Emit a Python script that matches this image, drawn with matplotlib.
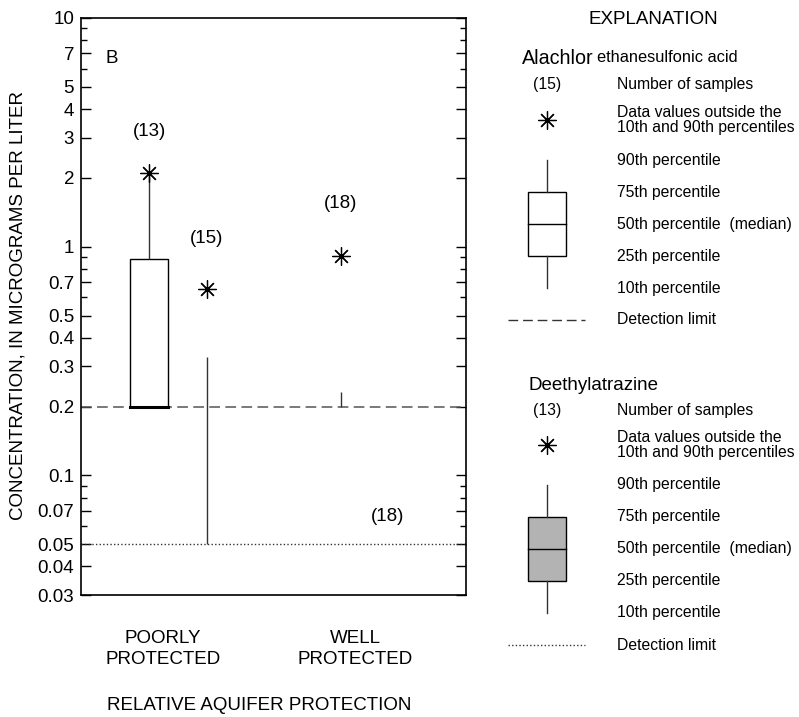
import numpy as np
import matplotlib
matplotlib.use("Agg")
import matplotlib.pyplot as plt
from matplotlib.patches import Rectangle

plt.rcParams["font.family"] = ["Liberation Sans", "DejaVu Sans"]

# groups on the x axis
groups = ["POORLY\nPROTECTED", "WELL\nPROTECTED"]

# Deethylatrazine (left box in each group)
dea_n = [13, 18]
dea_p10 = [0.2, 0.2]
dea_q1 = [0.2, np.nan]
dea_med = [0.2, np.nan]
dea_q3 = [0.88, np.nan]
dea_p90 = [2.1, 0.232]
dea_out = [[2.1], [0.91]]
dea_label_y = [3.2, 1.55]

# Alachlor ethanesulfonic acid (right box in each group)
ala_n = [15, 18]
ala_p10 = [0.05, np.nan]
ala_p90 = [0.33, np.nan]
ala_out = [[0.65], []]
ala_label_y = [1.09, 0.066]

det_ala = 0.2
det_dea = 0.05
yticks_major = [0.03, 0.04, 0.05, 0.07, 0.1, 0.2, 0.3, 0.4, 0.5, 0.7, 1, 2, 3, 4, 5, 7, 10]
yticks_minor = [0.06, 0.08, 0.09, 0.6, 0.8, 0.9, 6, 8, 9]

FS = 13.5   # axis text size
LFS = 11.3  # explanation text size

W, H = 799, 717
fig = plt.figure(figsize=(W / 100, H / 100), dpi=100)
ax = fig.add_axes([81 / W, 1 - 595 / H, 385 / W, 577 / H])
ax.set_yscale("log")
ax.set_ylim(0.03, 10)
ax.set_xlim(0, 1)

star = (8, 2, 0)
group_x = [0.213, 0.712]
dea_x = [0.177, 0.675]
ala_x = [0.327, 0.795]
bw = 0.099

for i in range(len(groups)):
    x = dea_x[i]
    if not np.isnan(dea_q1[i]):
        ax.add_patch(Rectangle((x - bw / 2, dea_q1[i]), bw, dea_q3[i] - dea_q1[i],
                               facecolor="white", edgecolor="black", lw=1.0, zorder=3))
        ax.plot([x - bw / 2, x + bw / 2], [dea_med[i]] * 2, color="black", lw=2.2, zorder=4)
        ax.vlines(x, dea_q3[i], dea_p90[i], color="#333333", lw=1.0, zorder=3)
    else:
        ax.vlines(x, dea_p10[i], dea_p90[i], color="#333333", lw=1.0, zorder=3)
    if dea_out[i]:
        ax.plot([x] * len(dea_out[i]), dea_out[i], ls="none", marker=star,
                ms=13, mew=0.9, color="black", zorder=5)
    ax.text(x, dea_label_y[i], "(%d)" % dea_n[i], ha="center", va="center", fontsize=FS)

    x = ala_x[i]
    if not np.isnan(ala_p10[i]):
        ax.vlines(x, ala_p10[i], ala_p90[i], color="#333333", lw=1.0, zorder=3)
    if ala_out[i]:
        ax.plot([x] * len(ala_out[i]), ala_out[i], ls="none", marker=star,
                ms=13, mew=0.9, color="black", zorder=5)
    ax.text(x, ala_label_y[i], "(%d)" % ala_n[i], ha="center", va="center", fontsize=FS)

ax.axhline(det_ala, color="#555555", lw=1.1, dashes=(7, 3.5), zorder=2)
ax.axhline(det_dea, color="#333333", lw=1.0, dashes=(1, 1.6), zorder=2)

ax.set_yticks(yticks_major)
ax.set_yticklabels([("%g" % v) for v in yticks_major])
ax.set_yticks(yticks_minor, minor=True)
ax.yaxis.set_minor_formatter(plt.NullFormatter())
ax.tick_params(axis="y", which="major", direction="in", length=7, width=1.0,
               left=True, right=True, labelsize=FS, pad=5)
ax.tick_params(axis="y", which="minor", direction="in", length=4.5, width=1.0,
               left=True, right=True)
ax.set_xticks(group_x)
ax.set_xticklabels(groups, fontsize=FS, linespacing=1.3)
ax.tick_params(axis="x", length=0, pad=25)
for s in ax.spines.values():
    s.set_linewidth(1.2)

ax.text(0.08, 0.93, "B", transform=ax.transAxes, fontsize=FS, ha="center", va="center")

fig.text(259 / W, 1 - 706 / H, "RELATIVE AQUIFER PROTECTION", ha="center", va="center", fontsize=FS)
fig.text(18 / W, 1 - 306 / H, "CONCENTRATION, IN MICROGRAMS PER LITER", rotation=90,
         ha="center", va="center", fontsize=FS)

# explanation panel drawn in pixel coordinates
lg = fig.add_axes([0, 0, 1, 1])
lg.set_xlim(0, W)
lg.set_ylim(H, 0)
lg.axis("off")
lg.patch.set_alpha(0)

lg.text(653, 20, "EXPLANATION", ha="center", va="center", fontsize=FS)
lg.text(522, 58, "Alachlor", ha="left", va="center", fontsize=14.2)
lg.text(597, 58, "ethanesulfonic acid", ha="left", va="center", fontsize=11.8)
lg.text(528, 385, "Deethylatrazine", ha="left", va="center", fontsize=13.5)

rows = ["Number of samples", "Data values outside the\n10th and 90th percentiles",
        "90th percentile", "75th percentile", "50th percentile  (median)",
        "25th percentile", "10th percentile", "Detection limit"]
for y0, n, face, ls in [(85, 15, "white", (7, 3.5)), (410, 13, "#b3b3b3", (1, 1.6))]:
    ys = [y0, y0 + 35, y0 + 75, y0 + 107, y0 + 139, y0 + 171, y0 + 203, y0 + 235]
    lg.text(547, y0, "(%d)" % n, ha="center", va="center", fontsize=LFS)
    for yy, t in zip(ys, rows):
        lg.text(617, yy, t, ha="left", va="center", fontsize=LFS, linespacing=1.05)
    lg.plot([547], [ys[1]], marker=star, ms=13, mew=0.9, color="black")
    lg.plot([547, 547], [ys[2], ys[3]], color="#333333", lw=1.0)
    lg.plot([547, 547], [ys[5], ys[6]], color="#333333", lw=1.0)
    lg.add_patch(Rectangle((528, ys[3]), 38, ys[5] - ys[3], facecolor=face,
                           edgecolor="black", lw=1.0))
    lg.plot([528, 566], [ys[4], ys[4]], color="black", lw=1.0)
    lg.plot([508, 585], [ys[7], ys[7]], color="#333333", lw=1.0, dashes=ls)

fig.savefig("out.png", dpi=100)
